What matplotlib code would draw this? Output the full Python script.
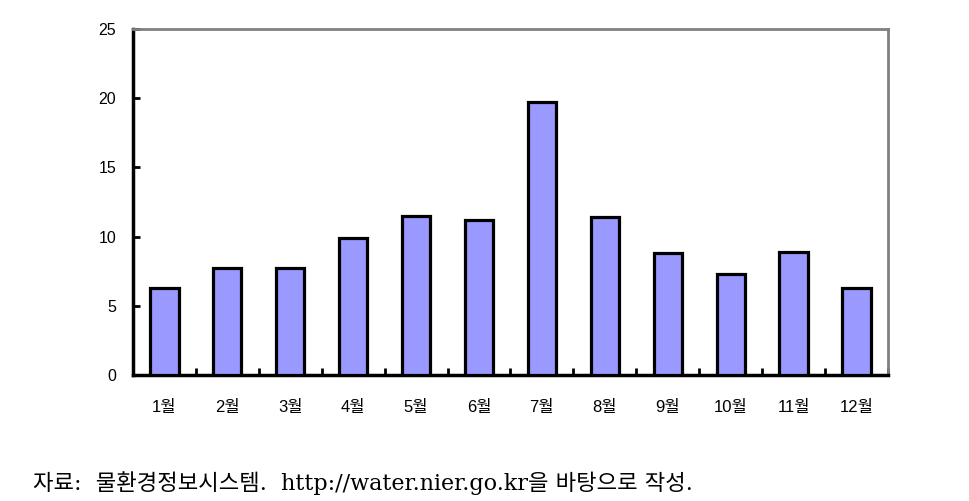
import matplotlib.pyplot as plt
import numpy as np

plt.rcParams['font.family'] = ['Liberation Sans', 'Noto Sans CJK KR', 'DejaVu Sans']

# monthly values
months = ["1월", "2월", "3월", "4월", "5월", "6월", "7월", "8월", "9월", "10월", "11월", "12월"]
values = [6.3, 7.7, 7.7, 9.9, 11.5, 11.2, 19.7, 11.4, 8.8, 7.3, 8.9, 6.3]
yticks = [0, 5, 10, 15, 20, 25]
source = "자료:  물환경정보시스템.  http://water.nier.go.kr을 바탕으로 작성."

fig = plt.figure(figsize=(9.7, 5.01), dpi=100)
ax = fig.add_axes([0.137, 0.2515, 0.7785, 0.6905])

x = np.arange(len(months))
ax.bar(x, values, width=0.45, color="#9999FF", edgecolor="black", linewidth=2.3, zorder=3)

ax.set_xlim(-0.5, len(months) - 0.5)
ax.set_ylim(0, 25)
ax.set_yticks(yticks)
ax.set_yticklabels([str(t) for t in yticks], fontsize=11.5)

# category labels at centres, tick marks between categories
ax.set_xticks(x)
ax.set_xticklabels(months, fontsize=12)
ax.tick_params(axis="x", which="major", length=0, pad=18)
ax.set_xticks(np.arange(len(months)) + 0.5, minor=True)
ax.tick_params(axis="x", which="minor", direction="in", length=5, width=2, color="black")
ax.tick_params(axis="y", direction="in", length=5, width=2, pad=12)

for side in ["left", "bottom"]:
    ax.spines[side].set_color("black")
    ax.spines[side].set_linewidth(2.5)
for side in ["top", "right"]:
    ax.spines[side].set_color("#808080")
    ax.spines[side].set_linewidth(2)

fig.text(0.034, 0.022, source, fontsize=16, va="baseline",
         family=['DejaVu Serif', 'Noto Sans CJK KR'])

fig.savefig("out.png", dpi=100)
